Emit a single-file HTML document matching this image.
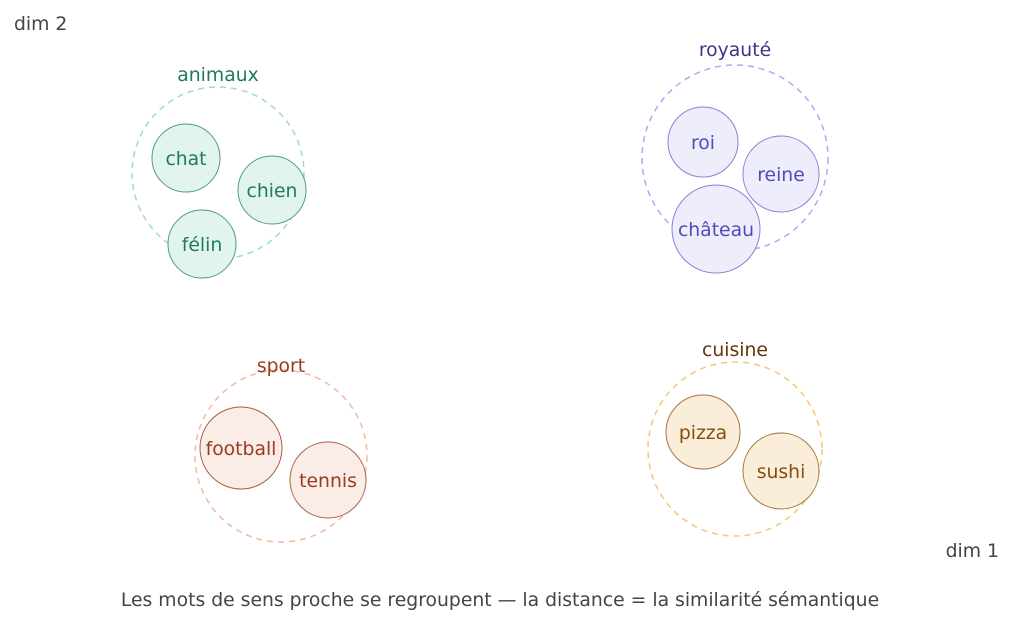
<!DOCTYPE html>
<html><head><meta charset="utf-8"><style>
html,body{margin:0;padding:0;background:#fff;}
svg{display:block;font-family:"DejaVu Sans","Liberation Sans",sans-serif;}
</style></head><body>
<svg width="1024" height="618" viewBox="0 0 1024 618" xmlns="http://www.w3.org/2000/svg">
<rect width="1024" height="618" fill="#fff"/>
<g font-size="18.8">
<text x="14" y="30" fill="#444">dim 2</text>
<text x="999" y="557" fill="#444" text-anchor="end">dim 1</text>

<!-- animaux -->
<circle cx="218" cy="173" r="86" fill="none" stroke="#9fdcc4" stroke-width="1.5" stroke-dasharray="6 5"/>
<text x="218" y="81" fill="#1f7a5c" text-anchor="middle">animaux</text>
<g fill="#e1f5ee" stroke="#4f9c7e" stroke-width="1">
<circle cx="186" cy="158" r="34"/><circle cx="272" cy="190" r="34"/><circle cx="202" cy="244" r="34"/></g>
<g fill="#1f7a5c" text-anchor="middle">
<text x="186" y="165">chat</text><text x="272" y="197">chien</text><text x="202" y="251">félin</text></g>

<!-- royauté -->
<circle cx="735" cy="158" r="93" fill="none" stroke="#b0a8ee" stroke-width="1.5" stroke-dasharray="6 5"/>
<text x="735" y="56" fill="#3c3489" text-anchor="middle">royauté</text>
<g fill="#eeedfc" stroke="#8a80d8" stroke-width="1">
<circle cx="703" cy="142" r="35"/><circle cx="781" cy="174" r="38"/><circle cx="716" cy="229" r="44"/></g>
<g fill="#534ab7" text-anchor="middle">
<text x="703" y="149">roi</text><text x="781" y="181">reine</text><text x="716" y="236">château</text></g>

<!-- sport -->
<circle cx="281" cy="456" r="86" fill="none" stroke="#f2b8a2" stroke-width="1.5" stroke-dasharray="6 5"/>
<text x="281" y="372" fill="#993c1d" text-anchor="middle">sport</text>
<g fill="#faece7" stroke="#b35a3d" stroke-width="1">
<circle cx="241" cy="448" r="41"/><circle cx="328" cy="480" r="38"/></g>
<g fill="#993c1d" text-anchor="middle">
<text x="241" y="455">football</text><text x="328" y="487">tennis</text></g>

<!-- cuisine -->
<circle cx="735" cy="449" r="87" fill="none" stroke="#f5c872" stroke-width="1.5" stroke-dasharray="6 5"/>
<text x="735" y="356" fill="#633806" text-anchor="middle">cuisine</text>
<g fill="#faeeda" stroke="#a7773a" stroke-width="1">
<circle cx="703" cy="432" r="37"/><circle cx="781" cy="471" r="38"/></g>
<g fill="#854f0b" text-anchor="middle">
<text x="703" y="439">pizza</text><text x="781" y="478">sushi</text></g>

<text x="500" y="606" fill="#444" text-anchor="middle">Les mots de sens proche se regroupent — la distance = la similarité sémantique</text>
</g>
</svg>
</body></html>
